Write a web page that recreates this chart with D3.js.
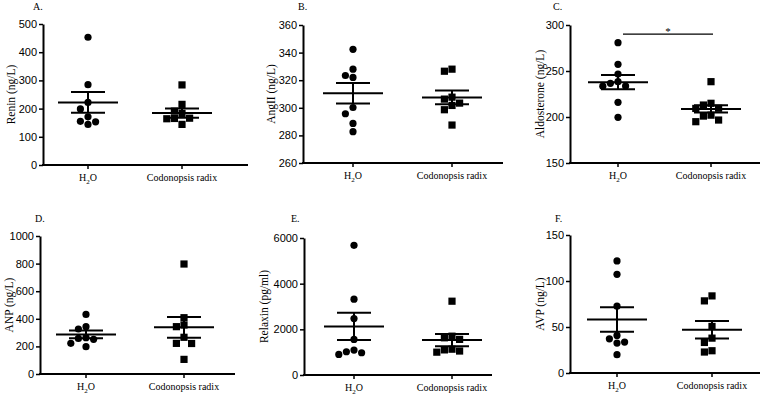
<!DOCTYPE html>
<html>
<head>
<meta charset="utf-8">
<script src="https://cdn.jsdelivr.net/npm/d3@7"></script>
<style>
  body { margin: 0; background: #fff; }
  svg { font-family: "Liberation Serif", "Times New Roman", serif; }
  .axis path, .axis line { stroke: #000; }
  .axis text { font-size: 11px; fill: #000; }
</style>
</head>
<body>
<div id="chart"></div>
<script>
// groups
var groups = ["H2O", "Codonopsis radix"];

// raw values (H2O, Codonopsis radix)
var reninH2O = [453, 285, 222, 199, 171, 155, 153, 144];
var reninCR  = [284, 215, 191, 183, 166, 165, 164, 144];
var angH2O   = [342.4, 328, 323.4, 322, 300.2, 295.7, 288.7, 282.7];
var angCR    = [328, 326.5, 307.7, 306.3, 303.4, 301.7, 298.6, 287.5];
var aldoH2O  = [280.8, 257.3, 246.7, 238.4, 236.6, 233.7, 233.5, 216, 199.7];
var aldoCR   = [238.4, 214.9, 213, 209.5, 209.3, 202, 201, 196.7, 194.9];
var anpH2O   = [432, 343, 326, 263, 258, 251, 222, 198];
var anpCR    = [797, 408, 355, 343, 266, 222, 221, 106];
var relH2O   = [5678, 3320, 2475, 1558, 1092, 1019, 975, 903];
var relCR    = [3232, 1700, 1630, 1560, 1130, 1100, 1050, 1000];
var avpH2O   = [121.8, 107.3, 72.6, 40.8, 37.2, 33.6, 32.5, 19.9];
var avpCR    = [83.8, 78.4, 50.6, 37.9, 33.2, 24.2, 22.8];

// mean and SEM as drawn in the figure
var reninMean = [222, 184],   reninSem = [37, 16.5];
var angMean   = [310.6, 307.5], angSem = [7.4, 5];
var aldoMean  = [237.9, 208.8], aldoSem = [7.8, 4];
var anpMean   = [287, 338],   anpSem = [28, 75];
var relMean   = [2126, 1529], relSem = [597, 270];
var avpMean   = [58.2, 47],   avpSem = [13.3, 9.4];

// y axis ticks
var reninTicks = [0, 100, 200, 300, 400, 500];
var angTicks   = [260, 280, 300, 320, 340, 360];
var aldoTicks  = [150, 200, 250, 300];
var anpTicks   = [0, 200, 400, 600, 800, 1000];
var relTicks   = [0, 2000, 4000, 6000];
var avpTicks   = [0, 50, 100, 150];

// significance bar in panel C
var aldoSig = { value: 290, label: "*" };

var panels = [
  { tag: "A.", title: "Renin (ng/L)",      h2o: reninH2O, cr: reninCR, mean: reninMean, sem: reninSem, ticks: reninTicks,
    x0: 43, top: 24, bottom: 165, right: 248, c1: 88, c2: 182, tagX: 33, tagY: 10, titleX: 15 },
  { tag: "B.", title: "AngII (ng/L)",      h2o: angH2O, cr: angCR, mean: angMean, sem: angSem, ticks: angTicks,
    x0: 303, top: 25, bottom: 163, right: 503, c1: 353, c2: 452, tagX: 298, tagY: 10, titleX: 275 },
  { tag: "C.", title: "Aldosterone (ng/L)", h2o: aldoH2O, cr: aldoCR, mean: aldoMean, sem: aldoSem, ticks: aldoTicks,
    x0: 570, top: 25, bottom: 163, right: 760, c1: 618, c2: 711, tagX: 553, tagY: 10, titleX: 544, sig: aldoSig },
  { tag: "D.", title: "ANP (ng/L)",        h2o: anpH2O, cr: anpCR, mean: anpMean, sem: anpSem, ticks: anpTicks,
    x0: 40, top: 236, bottom: 374, right: 235, c1: 86, c2: 184, tagX: 35, tagY: 222, titleX: 13 },
  { tag: "E.", title: "Relaxin (pg/ml)",   h2o: relH2O, cr: relCR, mean: relMean, sem: relSem, ticks: relTicks,
    x0: 304, top: 238, bottom: 375, right: 492, c1: 354, c2: 452, tagX: 291, tagY: 222, titleX: 268 },
  { tag: "F.", title: "AVP (ng/L)",        h2o: avpH2O, cr: avpCR, mean: avpMean, sem: avpSem, ticks: avpTicks,
    x0: 570, top: 235, bottom: 373, right: 760, c1: 617, c2: 712, tagX: 555, tagY: 222, titleX: 544 }
];

var W = 760, H = 398;
var R = 3.6;          // marker radius / half side
var GAP = 7.6;        // horizontal step between neighbouring markers

var svg = d3.select("#chart").append("svg")
  .attr("width", W)
  .attr("height", H);

// simple column scatter: place each point at the centre, push sideways on overlap
function swarm(vals, y, cx) {
  var placed = [];
  vals.slice().sort(function(a, b){ return b - a; }).forEach(function(v){
    var py = y(v);
    var offs = [0, -1, 1, -2, 2, -3, 3];
    for (var k = 0; k < offs.length; k++) {
      var px = cx + offs[k] * GAP;
      var hit = placed.some(function(p){
        return Math.abs(p.x - px) < GAP - 0.5 && Math.abs(p.y - py) < 2 * R;
      });
      if (!hit) { placed.push({ x: px, y: py }); break; }
    }
  });
  return placed;
}

function h2oLabel(sel) {
  sel.append("tspan").text("H");
  sel.append("tspan").attr("dy", 3).attr("font-size", "7px").text("2");
  sel.append("tspan").attr("dy", -3).text("O");
}

panels.forEach(function(p){
  var g = svg.append("g");

  var y = d3.scaleLinear()
    .domain([p.ticks[0], p.ticks[p.ticks.length - 1]])
    .range([p.bottom, p.top]);

  var x = d3.scalePoint()
    .domain(groups)
    .range([p.c1, p.c2]);

  // y axis
  var yAxis = d3.axisLeft(y)
    .tickValues(p.ticks)
    .tickSize(4)
    .tickSizeOuter(0)
    .tickPadding(2)
    .tickFormat(d3.format("d"));
  g.append("g")
    .attr("class", "axis")
    .attr("transform", "translate(" + p.x0 + ",0)")
    .call(yAxis)
    .call(function(a){
      a.select(".domain").attr("stroke-width", 2);
      a.selectAll(".tick line").attr("stroke-width", 1.5);
    });

  // x axis
  g.append("line")
    .attr("x1", p.x0 - 1).attr("x2", p.right)
    .attr("y1", p.bottom).attr("y2", p.bottom)
    .attr("stroke", "#000").attr("stroke-width", 2);
  var xt = g.selectAll(".xtick")
    .data(groups)
    .enter().append("g")
    .attr("class", "xtick")
    .attr("transform", function(d){ return "translate(" + x(d) + "," + p.bottom + ")"; });
  xt.append("line")
    .attr("y2", 4)
    .attr("stroke", "#000").attr("stroke-width", 1.5);
  xt.append("text")
    .attr("y", 16)
    .attr("text-anchor", "middle")
    .attr("font-size", "10px")
    .each(function(d){
      if (d === "H2O") h2oLabel(d3.select(this));
      else d3.select(this).text(d);
    });

  // axis title
  g.append("text")
    .attr("transform", "translate(" + p.titleX + "," + ((p.top + p.bottom) / 2) + ") rotate(-90)")
    .attr("text-anchor", "middle")
    .attr("font-size", "11.5px")
    .text(p.title);

  // panel tag
  g.append("text")
    .attr("x", p.tagX).attr("y", p.tagY)
    .attr("font-size", "10px")
    .text(p.tag);

  // points
  var h2oPts = swarm(p.h2o, y, x(groups[0]));
  var crPts = swarm(p.cr, y, x(groups[1]));

  g.selectAll(".dot")
    .data(h2oPts)
    .enter().append("circle")
    .attr("class", "dot")
    .attr("cx", function(d){ return d.x; })
    .attr("cy", function(d){ return d.y; })
    .attr("r", R)
    .attr("fill", "#000");

  g.selectAll(".sq")
    .data(crPts)
    .enter().append("rect")
    .attr("class", "sq")
    .attr("x", function(d){ return d.x - R; })
    .attr("y", function(d){ return d.y - R; })
    .attr("width", 2 * R)
    .attr("height", 2 * R)
    .attr("fill", "#000");

  // mean +/- SEM
  groups.forEach(function(gr, i){
    var cx = x(gr), m = p.mean[i], s = p.sem[i];
    g.append("line")
      .attr("x1", cx - 30).attr("x2", cx + 30)
      .attr("y1", y(m)).attr("y2", y(m))
      .attr("stroke", "#000").attr("stroke-width", 2);
    g.append("line")
      .attr("x1", cx).attr("x2", cx)
      .attr("y1", y(m + s)).attr("y2", y(m - s))
      .attr("stroke", "#000").attr("stroke-width", 2);
    [m + s, m - s].forEach(function(v){
      g.append("line")
        .attr("x1", cx - 17).attr("x2", cx + 17)
        .attr("y1", y(v)).attr("y2", y(v))
        .attr("stroke", "#000").attr("stroke-width", 2);
    });
  });

  // significance
  if (p.sig) {
    var x1 = x(groups[0]) + 5, x2 = x(groups[1]) + 2;
    g.append("line")
      .attr("x1", x1).attr("x2", x2)
      .attr("y1", y(p.sig.value)).attr("y2", y(p.sig.value))
      .attr("stroke", "#000").attr("stroke-width", 1.2);
    g.append("text")
      .attr("x", (x1 + x2) / 2).attr("y", y(p.sig.value) + 1)
      .attr("text-anchor", "middle")
      .attr("font-size", "11px")
      .text(p.sig.label);
  }
});
</script>
</body>
</html>
